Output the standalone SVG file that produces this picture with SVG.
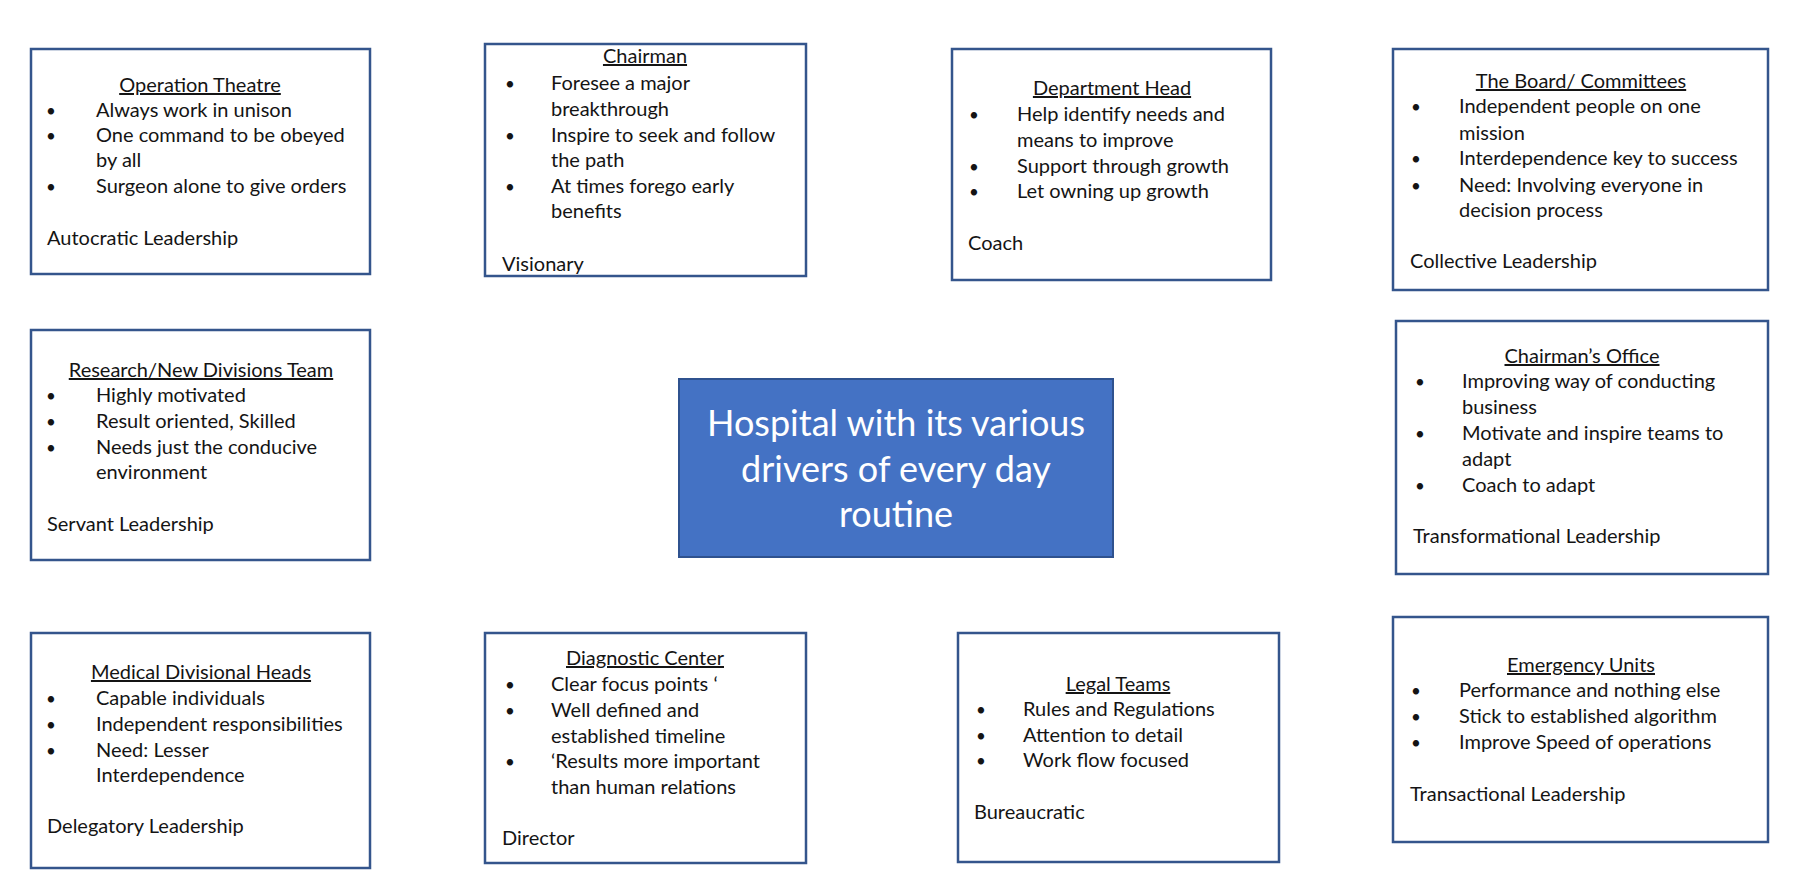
<svg xmlns="http://www.w3.org/2000/svg" width="1797" height="896" viewBox="0 0 1797 896">
<style>
.bg{fill:#ffffff}
.box{fill:#ffffff;stroke:#34558C;stroke-width:2.5}
.hub{fill:#4472C4;stroke:#2F528F;stroke-width:2}
.t{font-family:Lato,"Open Sans","Liberation Sans",sans-serif;font-size:20px;fill:#141414}
.b{font-family:Lato,"Open Sans","Liberation Sans",sans-serif;font-size:17px;fill:#141414}
.h{text-anchor:middle;text-decoration:underline}
.c{font-family:Lato,"Open Sans","Liberation Sans",sans-serif;font-size:36px;fill:#ffffff;text-anchor:middle}
</style>
<rect class="bg" x="0" y="0" width="1797" height="896"/>
<g id="connectors"></g>

<g id="operation-theatre">
<rect class="box" x="31" y="49" width="339" height="225"/>
<text class="t h" x="200" y="92">Operation Theatre</text>
<text class="b" x="46" y="117">•</text><text class="t" x="96" y="117">Always work in unison</text>
<text class="b" x="46" y="142">•</text><text class="t" x="96" y="142">One command to be obeyed</text>
<text class="t" x="96" y="167">by all</text>
<text class="b" x="46" y="193">•</text><text class="t" x="96" y="193">Surgeon alone to give orders</text>
<text class="t" x="47" y="245">Autocratic Leadership</text>
</g>

<g id="chairman">
<rect class="box" x="485" y="44" width="321" height="232"/>
<text class="t h" x="645" y="63">Chairman</text>
<text class="b" x="505" y="90">•</text><text class="t" x="551" y="90">Foresee a major</text>
<text class="t" x="551" y="116">breakthrough</text>
<text class="b" x="505" y="142">•</text><text class="t" x="551" y="142">Inspire to seek and follow</text>
<text class="t" x="551" y="167">the path</text>
<text class="b" x="505" y="193">•</text><text class="t" x="551" y="193">At times forego early</text>
<text class="t" x="551" y="218">benefits</text>
<text class="t" x="502" y="271">Visionary</text>
</g>

<g id="department-head">
<rect class="box" x="952" y="49" width="319" height="231"/>
<text class="t h" x="1112" y="95">Department Head</text>
<text class="b" x="969" y="121">•</text><text class="t" x="1017" y="121">Help identify needs and</text>
<text class="t" x="1017" y="147">means to improve</text>
<text class="b" x="969" y="173">•</text><text class="t" x="1017" y="173">Support through growth</text>
<text class="b" x="969" y="198">•</text><text class="t" x="1017" y="198">Let owning up growth</text>
<text class="t" x="968" y="250">Coach</text>
</g>

<g id="board-committees">
<rect class="box" x="1393" y="49" width="375" height="241"/>
<text class="t h" x="1581" y="88">The Board/ Committees</text>
<text class="b" x="1411" y="113">•</text><text class="t" x="1459" y="113">Independent people on one</text>
<text class="t" x="1459" y="140">mission</text>
<text class="b" x="1411" y="165">•</text><text class="t" x="1459" y="165">Interdependence key to success</text>
<text class="b" x="1411" y="192">•</text><text class="t" x="1459" y="192">Need: Involving everyone in</text>
<text class="t" x="1459" y="217">decision process</text>
<text class="t" x="1410" y="268">Collective Leadership</text>
</g>

<g id="research-team">
<rect class="box" x="31" y="330" width="339" height="230"/>
<text class="t h" x="201" y="377">Research/New Divisions Team</text>
<text class="b" x="46" y="402">•</text><text class="t" x="96" y="402">Highly motivated</text>
<text class="b" x="46" y="428">•</text><text class="t" x="96" y="428">Result oriented, Skilled</text>
<text class="b" x="46" y="454">•</text><text class="t" x="96" y="454">Needs just the conducive</text>
<text class="t" x="96" y="479">environment</text>
<text class="t" x="47" y="531">Servant Leadership</text>
</g>

<g id="hospital">
<rect class="hub" x="679" y="379" width="434" height="178"/>
<text class="c" x="896" y="436">Hospital with its various</text>
<text class="c" x="896" y="482">drivers of every day</text>
<text class="c" x="896" y="527">routine</text>
</g>

<g id="chairmans-office">
<rect class="box" x="1396" y="321" width="372" height="253"/>
<text class="t h" x="1582" y="363">Chairman’s Office</text>
<text class="b" x="1415" y="388">•</text><text class="t" x="1462" y="388">Improving way of conducting</text>
<text class="t" x="1462" y="414">business</text>
<text class="b" x="1415" y="440">•</text><text class="t" x="1462" y="440">Motivate and inspire teams to</text>
<text class="t" x="1462" y="466">adapt</text>
<text class="b" x="1415" y="492">•</text><text class="t" x="1462" y="492">Coach to adapt</text>
<text class="t" x="1413" y="543">Transformational Leadership</text>
</g>

<g id="medical-divisional-heads">
<rect class="box" x="31" y="633" width="339" height="235"/>
<text class="t h" x="201" y="679">Medical Divisional Heads</text>
<text class="b" x="46" y="705">•</text><text class="t" x="96" y="705">Capable individuals</text>
<text class="b" x="46" y="731">•</text><text class="t" x="96" y="731">Independent responsibilities</text>
<text class="b" x="46" y="757">•</text><text class="t" x="96" y="757">Need: Lesser</text>
<text class="t" x="96" y="782">Interdependence</text>
<text class="t" x="47" y="833">Delegatory Leadership</text>
</g>

<g id="diagnostic-center">
<rect class="box" x="485" y="633" width="321" height="230"/>
<text class="t h" x="645" y="665">Diagnostic Center</text>
<text class="b" x="505" y="691">•</text><text class="t" x="551" y="691">Clear focus points ‘</text>
<text class="b" x="505" y="717">•</text><text class="t" x="551" y="717">Well defined and</text>
<text class="t" x="551" y="743">established timeline</text>
<text class="b" x="505" y="768">•</text><text class="t" x="551" y="768">‘Results more important</text>
<text class="t" x="551" y="794">than human relations</text>
<text class="t" x="502" y="845">Director</text>
</g>

<g id="legal-teams">
<rect class="box" x="958" y="633" width="321" height="229"/>
<text class="t h" x="1118" y="691">Legal Teams</text>
<text class="b" x="976" y="716">•</text><text class="t" x="1023" y="716">Rules and Regulations</text>
<text class="b" x="976" y="742">•</text><text class="t" x="1023" y="742">Attention to detail</text>
<text class="b" x="976" y="767">•</text><text class="t" x="1023" y="767">Work flow focused</text>
<text class="t" x="974" y="819">Bureaucratic</text>
</g>

<g id="emergency-units">
<rect class="box" x="1393" y="617" width="375" height="225"/>
<text class="t h" x="1581" y="672">Emergency Units</text>
<text class="b" x="1411" y="697">•</text><text class="t" x="1459" y="697">Performance and nothing else</text>
<text class="b" x="1411" y="723">•</text><text class="t" x="1459" y="723">Stick to established algorithm</text>
<text class="b" x="1411" y="749">•</text><text class="t" x="1459" y="749">Improve Speed of operations</text>
<text class="t" x="1410" y="801">Transactional Leadership</text>
</g>
</svg>
